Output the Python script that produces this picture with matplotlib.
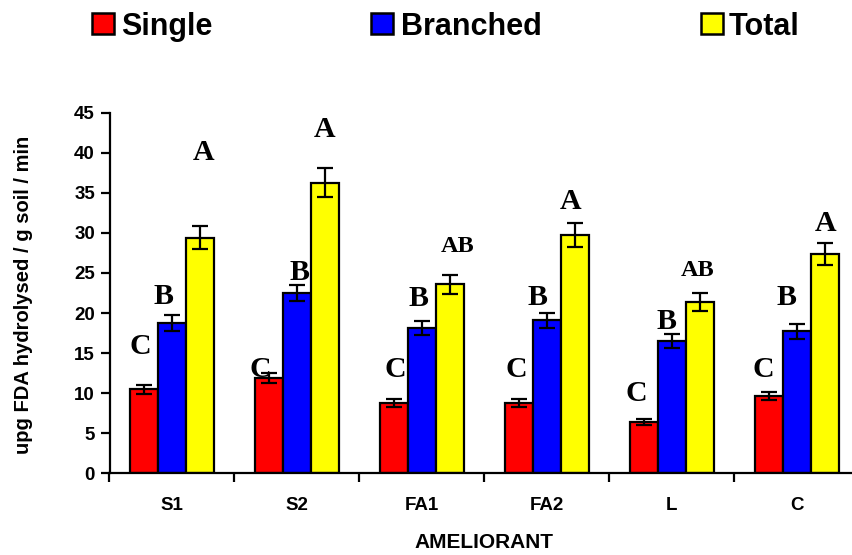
import matplotlib
matplotlib.use("Agg")
import matplotlib.pyplot as plt
from matplotlib.patches import Rectangle
import numpy as np

categories = ["S1", "S2", "FA1", "FA2", "L", "C"]
series_names = ["Single", "Branched", "Total"]
single = [10.45, 11.9, 8.8, 8.8, 6.4, 9.6]
branched = [18.8, 22.5, 18.1, 19.1, 16.5, 17.7]
total = [29.4, 36.3, 23.6, 29.7, 21.4, 27.4]
single_err = [0.55, 0.6, 0.5, 0.5, 0.35, 0.5]
branched_err = [1.0, 1.05, 0.9, 0.95, 0.85, 0.95]
total_err = [1.45, 1.8, 1.2, 1.5, 1.1, 1.4]
colors = ["#ff0000", "#0000ff", "#ffff00"]

# significance letters: (group x offset, y value)
letters_single = ["C", "C", "C", "C", "C", "C"]
letters_branched = ["B", "B", "B", "B", "B", "B"]
letters_total = ["A", "A", "AB", "A", "AB", "A"]
lab_single_pos = [(-0.25, 15.8), (-0.29, 12.9), (-0.21, 12.9), (-0.24, 12.9), (-0.28, 9.9), (-0.27, 12.9)]
lab_branched_pos = [(-0.07, 22.0), (0.02, 25.0), (-0.03, 21.8), (-0.07, 21.9), (-0.04, 18.9), (-0.08, 21.9)]
lab_total_pos = [(0.25, 40.0), (0.22, 42.9), (0.29, 28.3), (0.19, 33.9), (0.21, 25.3), (0.23, 31.2)]

W, H = 852, 555
fig = plt.figure(figsize=(W / 100, H / 100), dpi=100)
ax = fig.add_axes([109.5 / W, 82 / H, (859 - 109.5) / W, (473 - 113) / H])

x = np.arange(len(categories))
bw = 0.224
data = [single, branched, total]
errs = [single_err, branched_err, total_err]
for k in range(3):
    ax.bar(x + (k - 1) * bw, data[k], bw, color=colors[k], edgecolor="black",
           linewidth=1.6, zorder=2)
    ax.errorbar(x + (k - 1) * bw, data[k], yerr=errs[k], fmt="none", ecolor="black",
                elinewidth=1.6, capsize=5.5, capthick=1.6, zorder=3)

serif = ["Liberation Serif", "DejaVu Serif"]
for labels, poss in [(letters_single, lab_single_pos), (letters_branched, lab_branched_pos),
                     (letters_total, lab_total_pos)]:
    for i, (t, (dx, yv)) in enumerate(zip(labels, poss)):
        fs = 17.5 if len(t) > 1 else 21.5
        ax.text(i + dx, yv, t, ha="center", va="center", fontsize=fs,
                fontweight="bold", family=serif, zorder=4)

sans = ["Liberation Sans", "DejaVu Sans"]
ax.set_xlim(-0.5, 5.5)
ax.set_ylim(0, 45)
yt = np.arange(0, 46, 5)
ax.set_yticks(yt)
ax.set_yticklabels([str(v) for v in yt], fontsize=13.5, fontweight="bold", family=sans)
ax.set_xticks(np.arange(-0.5, 5.6, 1.0))
ax.set_xticklabels([])
ax.set_xticks(x, minor=True)
ax.set_xticklabels(categories, minor=True, fontsize=13.5, fontweight="bold", family=sans)
ax.tick_params(axis="x", which="minor", length=0, pad=17)
ax.tick_params(axis="x", which="major", length=6.5, width=1.6, direction="out")
ax.tick_params(axis="y", length=6.5, width=1.6, direction="out", pad=4)
for s in ["top", "right"]:
    ax.spines[s].set_visible(False)
for s in ["left", "bottom"]:
    ax.spines[s].set_linewidth(1.6)

fig.text(484 / W, 1 - 542 / H, "AMELIORANT", ha="center", va="center",
         fontsize=15, fontweight="bold", family=sans)
fig.text(24 / W, 1 - 295 / H, "upg FDA hydrolysed / g soil / min", rotation=90,
         ha="center", va="center", fontsize=14.5, fontweight="bold", family=sans)

# legend
leg_sq_x = [92, 371, 701]
leg_tx_x = [121, 401, 729]
for k in range(3):
    fig.add_artist(Rectangle((leg_sq_x[k] / W, 1 - 34 / H), 22 / W, 21 / H,
                             facecolor=colors[k], edgecolor="black", linewidth=1.8,
                             transform=fig.transFigure))
    fig.text(leg_tx_x[k] / W, 1 - 35 / H, series_names[k], ha="left", va="baseline",
             fontsize=22, fontweight="bold", family=sans)

fig.savefig("out.png", dpi=100)
